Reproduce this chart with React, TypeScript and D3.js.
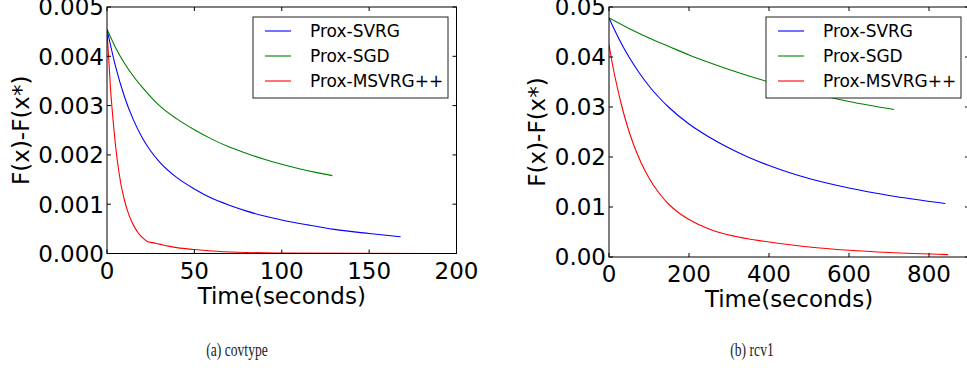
import * as d3 from "d3"

// covtype: [time (s), F(x)-F(x*)]
const covSvrg: [number, number][] = [
  [0, 0.00455], [5, 0.00378], [10, 0.00318], [15, 0.00272], [20, 0.00236], [25, 0.00208],
  [30, 0.00186], [40, 0.00154], [50, 0.00131], [60, 0.00112], [70, 0.00098], [80, 0.00086],
  [90, 0.00076], [100, 0.00068], [115, 0.00058], [130, 0.00049], [150, 0.000405], [168, 0.00034],
]
const covSgd: [number, number][] = [
  [0, 0.00455], [5, 0.00417], [10, 0.00386], [15, 0.0036], [20, 0.00338], [30, 0.003],
  [40, 0.00273], [50, 0.00251], [60, 0.00232], [70, 0.00216], [80, 0.00203], [90, 0.00191],
  [100, 0.00181], [110, 0.00172], [120, 0.00164], [129, 0.00158],
]
const covMsvrg: [number, number][] = [
  [0, 0.0045], [1, 0.00395], [2, 0.00335], [3, 0.0029], [4, 0.0025], [5, 0.00215],
  [6, 0.00186], [8, 0.0014], [10, 0.00108], [12, 0.00084], [14, 0.00066], [16, 0.00052],
  [18, 0.00041], [20, 0.00033], [23, 0.000245], [26, 0.00022], [30, 0.00019], [35, 0.00015],
  [40, 0.00012], [50, 0.00008], [60, 0.00005], [75, 0.000025], [100, 0.00001], [140, 0.000003],
  [188, 0.000001],
]

// rcv1
const rcvSvrg: [number, number][] = [
  [0, 0.0478], [25, 0.0436], [50, 0.04], [75, 0.0369], [100, 0.0342], [125, 0.0319],
  [150, 0.0299], [200, 0.0266], [250, 0.024], [300, 0.0218], [350, 0.0199], [400, 0.0183],
  [450, 0.0169], [500, 0.0157], [600, 0.0138], [700, 0.0123], [841, 0.0107],
]
const rcvSgd: [number, number][] = [
  [0, 0.0478], [50, 0.0457], [100, 0.0438], [150, 0.0421], [200, 0.0404], [250, 0.0389],
  [300, 0.0375], [350, 0.0362], [400, 0.035], [500, 0.0329], [600, 0.0311], [713, 0.0295],
]
const rcvMsvrg: [number, number][] = [
  [0, 0.0425], [10, 0.038], [20, 0.0342], [30, 0.0308], [45, 0.0264], [60, 0.0228],
  [80, 0.0189], [100, 0.0158], [125, 0.0128], [150, 0.0105], [175, 0.0088], [200, 0.0075],
  [250, 0.0056], [300, 0.0044], [350, 0.0036], [400, 0.003], [500, 0.002], [600, 0.00135],
  [700, 0.0009], [848, 0.00047],
]

const seriesNames = ["Prox-SVRG", "Prox-SGD", "Prox-MSVRG++"]
const seriesColors = ["#0000ff", "#008000", "#ff0000"]

const covXTicks = [0, 50, 100, 150, 200]
const covYTicks = [0, 0.001, 0.002, 0.003, 0.004, 0.005]
const rcvXTicks = [0, 200, 400, 600, 800]
const rcvYTicks = [0, 0.01, 0.02, 0.03, 0.04, 0.05]

const FONT = "'DejaVu Sans', sans-serif"

interface PanelProps {
  id: string
  series: [number, number][][]
  xDomain: [number, number]
  yDomain: [number, number]
  xTicks: number[]
  yTicks: number[]
  yFmt: (v: number) => string
  left: number
  right: number
  top: number
  bottom: number
  legendX: number
  yLabelX: number
  xLabelY: number
  xTickY: number
  captionX: number
  caption: string
}

function Panel(p: PanelProps) {
  const x = d3.scaleLinear().domain(p.xDomain).range([p.left, p.right])
  const y = d3.scaleLinear().domain(p.yDomain).range([p.bottom, p.top])
  const line = d3
    .line<[number, number]>()
    .x((d) => x(d[0]))
    .y((d) => y(d[1]))
    .curve(d3.curveMonotoneX)
  const tl = 4
  const midX = (p.left + p.right) / 2
  const lx = p.legendX
  return (
    <g>
      <defs>
        <clipPath id={p.id}>
          <rect x={p.left} y={p.top} width={p.right - p.left} height={p.bottom - p.top} />
        </clipPath>
      </defs>
      <g clipPath={`url(#${p.id})`}>
        {p.series.map((s, i) => (
          <path key={i} d={line(s) || ""} fill="none" stroke={seriesColors[i]} strokeWidth={1.1} />
        ))}
      </g>
      <rect x={p.left} y={p.top} width={p.right - p.left} height={p.bottom - p.top} fill="none" stroke="#000" strokeWidth={1} />
      {p.xTicks.map((t) => (
        <g key={"x" + t}>
          <line x1={x(t)} x2={x(t)} y1={p.bottom} y2={p.bottom - tl} stroke="#000" />
          <line x1={x(t)} x2={x(t)} y1={p.top} y2={p.top + tl} stroke="#000" />
          <text x={x(t)} y={p.xTickY} fontSize={23} fontFamily={FONT} textAnchor="middle" fill="#000">
            {t}
          </text>
        </g>
      ))}
      {p.yTicks.map((t) => (
        <g key={"y" + t}>
          <line x1={p.left} x2={p.left + tl} y1={y(t)} y2={y(t)} stroke="#000" />
          <line x1={p.right} x2={p.right - tl} y1={y(t)} y2={y(t)} stroke="#000" />
          <text x={p.left - 3} y={y(t) + 8.4} fontSize={23} fontFamily={FONT} textAnchor="end" fill="#000">
            {p.yFmt(t)}
          </text>
        </g>
      ))}
      <text x={midX} y={p.xLabelY} fontSize={23} fontFamily={FONT} textAnchor="middle" fill="#000">
        Time(seconds)
      </text>
      <text
        transform={`translate(${p.yLabelX},${(p.top + p.bottom) / 2}) rotate(-90)`}
        fontSize={23}
        fontFamily={FONT}
        textAnchor="middle"
        fill="#000"
      >
        F(x)-F(x*)
      </text>
      <rect x={lx} y={17} width={195} height={81} fill="#fff" stroke="#222" strokeWidth={1} />
      {seriesNames.map((n, i) => (
        <g key={n}>
          <line x1={lx + 12} x2={lx + 38} y1={31 + i * 25} y2={31 + i * 25} stroke={seriesColors[i]} strokeWidth={1.1} />
          <text x={lx + 57} y={31 + i * 25 + 6} fontSize={17} fontFamily={FONT} fill="#000">
            {n}
          </text>
        </g>
      ))}
      <text
        transform={`translate(${p.captionX},356) scale(0.88,1.2)`}
        fontSize={15.5}
        fontFamily="'Liberation Serif', serif"
        textAnchor="middle"
        fill="#222"
      >
        {p.caption}
      </text>
    </g>
  )
}

export default function App() {
  const fmt3 = d3.format(".3f")
  const fmt2 = d3.format(".2f")
  return (
    <div style={{ position: "fixed", left: 0, top: 0 }}>
      <svg width={967} height={372} style={{ display: "block", background: "#fff" }}>
        <Panel
          id="covtype"
          series={[covSvrg, covSgd, covMsvrg]}
          xDomain={[0, 200]}
          yDomain={[0, 0.005]}
          xTicks={covXTicks}
          yTicks={covYTicks}
          yFmt={fmt3}
          left={107}
          right={456.5}
          top={7}
          bottom={253.5}
          legendX={253}
          yLabelX={29}
          xLabelY={304}
          xTickY={279}
          captionX={237}
          caption="(a)  covtype"
        />
        <Panel
          id="rcv1"
          series={[rcvSvrg, rcvSgd, rcvMsvrg]}
          xDomain={[0, 900]}
          yDomain={[0, 0.05]}
          xTicks={rcvXTicks}
          yTicks={rcvYTicks}
          yFmt={fmt2}
          left={609}
          right={969}
          top={7}
          bottom={257}
          legendX={766}
          yLabelX={545}
          xLabelY={307}
          xTickY={282}
          captionX={752}
          caption="(b)  rcv1"
        />
      </svg>
    </div>
  )
}
